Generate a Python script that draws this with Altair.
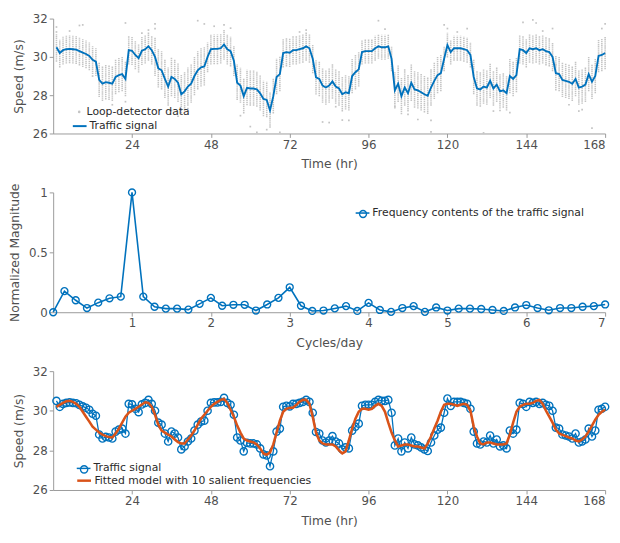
import altair as alt
import pandas as pd

# ---------------- data ----------------
hours = list(range(1, 169))

signal = [
    30.50, 30.20, 30.35, 30.40, 30.42, 30.40, 30.38, 30.30, 30.22, 30.15, 30.05, 29.85,
    29.75, 28.80, 28.60, 28.68, 28.65, 28.60, 28.95, 29.05, 29.10, 28.85, 30.35, 30.32,
    30.10, 29.93, 30.32, 30.40, 30.55, 30.35, 30.00, 29.40, 29.30, 28.85, 28.45, 28.95,
    28.85, 28.65, 28.05, 28.20, 28.45, 28.60, 29.00, 29.30, 29.45, 29.50, 30.00, 30.40,
    30.42, 30.42, 30.45, 30.65, 30.40, 30.30, 29.80, 28.65, 28.50, 27.95, 28.38, 28.35,
    28.35, 28.30, 28.10, 27.80, 27.75, 27.20, 27.95, 28.95, 29.10, 30.20, 30.25, 30.22,
    30.35, 30.35, 30.40, 30.45, 30.55, 30.45, 29.90, 28.93, 28.85, 28.50, 28.40, 28.50,
    28.72, 28.45, 28.35, 28.05, 28.15, 28.10, 29.00, 29.20, 29.35, 30.25, 30.30, 30.30,
    30.30, 30.45, 30.55, 30.50, 30.50, 30.55, 29.90, 28.25, 28.60, 27.95, 28.40, 28.10,
    28.65, 28.30, 28.25, 28.15, 28.05, 27.97, 28.40, 28.75, 29.05, 29.15, 29.90, 30.62,
    30.25, 30.45, 30.45, 30.45, 30.40, 30.35, 30.10, 28.95, 28.35, 28.30, 28.45, 28.40,
    28.75, 28.35, 28.55, 28.20, 28.25, 28.10, 29.00, 28.85, 29.05, 30.40, 30.35, 30.20,
    30.45, 30.40, 30.45, 30.35, 30.40, 30.30, 30.25, 30.00, 29.15, 29.10, 28.80, 28.75,
    28.70, 28.60, 28.85, 28.40, 28.45, 28.55, 29.10, 28.70, 29.00, 30.05, 30.10, 30.20,
]

fitted = [
    30.20, 30.30, 30.40, 30.48, 30.50, 30.45, 30.35, 30.20, 29.95, 29.70, 29.45, 29.20,
    29.05, 28.90, 28.80, 28.72, 28.67, 28.65, 28.85, 29.10, 29.40, 29.70, 29.90, 30.00,
    30.10, 30.20, 30.32, 30.43, 30.40, 30.20, 29.80, 29.30, 29.00, 28.90, 28.80, 28.70,
    28.55, 28.42, 28.35, 28.35, 28.55, 28.75, 29.00, 29.30, 29.60, 29.80, 30.00, 30.20,
    30.35, 30.45, 30.55, 30.60, 30.40, 30.05, 29.70, 29.25, 28.90, 28.60, 28.50, 28.45,
    28.40, 28.30, 28.10, 27.85, 27.78, 27.90, 28.30, 28.90, 29.50, 29.95, 30.10, 30.15,
    30.15, 30.30, 30.45, 30.55, 30.55, 30.35, 29.70, 28.90, 28.50, 28.35, 28.30, 28.30,
    28.30, 28.20, 28.00, 27.85, 27.95, 28.50, 29.10, 29.60, 29.95, 30.10, 30.10, 30.05,
    30.10, 30.25, 30.35, 30.25, 29.95, 29.40, 28.90, 28.50, 28.20, 28.25, 28.30, 28.30,
    28.25, 28.20, 28.20, 28.15, 28.10, 28.35, 28.70, 29.10, 29.50, 29.95, 30.30, 30.35,
    30.35, 30.30, 30.25, 30.30, 30.35, 30.30, 30.00, 29.20, 28.70, 28.35, 28.30, 28.40,
    28.40, 28.35, 28.30, 28.30, 28.30, 28.35, 28.80, 29.40, 29.95, 30.20, 30.30, 30.35,
    30.35, 30.40, 30.50, 30.55, 30.35, 30.00, 29.70, 29.40, 29.05, 28.85, 28.78, 28.72,
    28.65, 28.60, 28.50, 28.45, 28.55, 28.70, 28.95, 29.25, 29.55, 29.80, 29.95, 30.05,
]

freq_mag = [
    0.000, 0.176, 0.100, 0.035, 0.080, 0.116, 0.130, 1.000, 0.130, 0.046,
    0.030, 0.030, 0.022, 0.070, 0.120, 0.054, 0.062, 0.062, 0.014, 0.065,
    0.120, 0.208, 0.054, 0.011, 0.014, 0.032, 0.051, 0.011, 0.078, 0.019,
    0.003, 0.035, 0.051, 0.003, 0.040, 0.014, 0.030, 0.030, 0.027, 0.019,
    0.011, 0.040, 0.060, 0.035, 0.016, 0.035, 0.035, 0.046, 0.051, 0.065,
]
freq_k = list(range(len(freq_mag)))  # k/7 cycles per day

# spread of the dense loop-detector cloud: (first hour, last hour, above, below)
band_segments = [
    (1, 13, 0.70, 0.75), (14, 22, 0.90, 0.90), (23, 30, 0.75, 0.75),
    (31, 46, 1.00, 1.00), (47, 55, 0.75, 0.80), (56, 69, 0.95, 0.90),
    (70, 79, 0.75, 0.75), (80, 93, 0.90, 0.90), (94, 103, 0.65, 0.65),
    (104, 118, 0.95, 0.95), (119, 127, 0.65, 0.65), (128, 141, 0.90, 0.90),
    (142, 152, 0.75, 0.75), (153, 165, 0.90, 0.90), (166, 168, 0.85, 0.85),
]

outlier_t = [1, 1, 8, 9, 22, 22, 27, 31, 31, 44, 46, 49, 52, 57, 60, 62, 69,
             82, 84, 90, 99, 104, 111, 115, 115, 119, 120, 126, 131, 134, 139,
             143, 146, 147, 152, 153, 160, 161, 164, 167, 168, 36, 38, 65, 88,
             5, 12, 18, 29, 41, 54, 75, 77, 86, 101, 108, 123, 136, 149, 157]
outlier_v = [31.56, 31.30, 31.64, 31.67, 31.77, 27.66, 31.24, 31.72, 31.48, 31.89,
             31.72, 31.60, 31.67, 26.93, 26.36, 26.06, 26.06, 26.60, 26.57, 26.68,
             31.89, 27.40, 26.73, 26.68, 26.08, 31.67, 31.48, 31.48, 26.03, 27.17,
             27.09, 31.80, 31.93, 31.77, 31.48, 29.60, 27.17, 27.25, 26.28, 31.48,
             31.72, 27.20, 26.90, 26.20, 26.70,
             31.35, 29.00, 27.50, 31.40, 27.30, 31.50, 31.30, 31.40, 27.40, 31.45,
             27.00, 31.30, 27.20, 31.35, 27.50]

# ---------------- tables ----------------
BLUE = "#0072BD"
ORANGE = "#D95319"
GRAY = "#c4c4c4"
FONT = "DejaVu Sans"

spread_up, spread_dn = [], []
for h in hours:
    for a, b, up, dn in band_segments:
        if a <= h <= b:
            spread_up.append(up)
            spread_dn.append(dn)
            break

sig_df = pd.DataFrame({"t": hours, "v": signal, "fit": fitted})
sig_df["lo"] = [s - d for s, d in zip(signal, spread_dn)]
sig_df["hi"] = [s + u for s, u in zip(signal, spread_up)]
sig_df["s_loop"] = "Loop-detector data"
sig_df["s_sig"] = "Traffic signal"
sig_df["s_fit"] = "Fitted model with 10 salient frequencies"

out_df = pd.DataFrame({"t": outlier_t, "v": outlier_v, "s_loop": "Loop-detector data"})

freq_df = pd.DataFrame({"f": [k / 7 for k in freq_k], "m": freq_mag,
                        "s": "Frequency contents of the traffic signal"})

W = 562
H1, H2, H3 = 117, 122, 121

ax_time = alt.Axis(values=[24, 48, 72, 96, 120, 144, 168], title="Time (hr)",
                   labelFlush=1, format="d")
ax_speed = alt.Axis(values=[26, 28, 30, 32], title="Speed (m/s)", format="d")
sc_time = alt.Scale(domain=[0, 168], nice=False)
sc_speed = alt.Scale(domain=[26, 32], nice=False)


def xt(field="t"):
    return alt.X(f"{field}:Q", scale=sc_time, axis=ax_time)


def ys(field):
    return alt.Y(f"{field}:Q", scale=sc_speed, axis=ax_speed)


def one_legend(domain, color, x, y, sym, size, sw=2.0, hide_label=False, filled=False):
    kw = dict(orient="none", legendX=x, legendY=y, title=None, padding=0,
              symbolType=sym, symbolSize=size, symbolStrokeWidth=sw,
              labelOffset=2, labelFontSize=11, labelFont=FONT, labelLimit=400,
              labelColor="#2b2b2b",
              symbolFillColor=color if filled else "transparent",
              symbolStrokeColor=color)
    if hide_label:
        kw["labelExpr"] = "''"
    return alt.Scale(domain=[domain], range=[color]), alt.Legend(**kw)


# ---------- panel 1 ----------
sc, lg = one_legend("Loop-detector data", GRAY, 21, 89.5, "circle", 7, sw=0, filled=True)
band = alt.Chart(sig_df).transform_calculate(v="datum.lo").mark_rule(
    strokeWidth=1.6, strokeDash=[1.4, 0.7]).encode(
    x=xt(), y=ys("v"), y2=alt.Y2("hi:Q"),
    color=alt.Color("s_loop:N", scale=sc, legend=lg),
)
outl = alt.Chart(out_df).mark_square(size=3, opacity=1).encode(
    x=xt(), y=ys("v"), color=alt.Color("s_loop:N", scale=sc, legend=None))
sc2, lg2 = one_legend("Traffic signal", BLUE, 19, 101.5, "stroke", 196, sw=2)
line1 = alt.Chart(sig_df).mark_line(strokeWidth=1.9).encode(
    x=xt(), y=ys("v"), color=alt.Color("s_sig:N", scale=sc2, legend=lg2))
p1 = alt.layer(band, outl, line1).resolve_scale(color="independent").properties(width=W, height=H1)

# ---------- panel 2 ----------
sc3, lg3 = one_legend("Frequency contents of the traffic signal", BLUE, 307, 13, "stroke", 196, sw=1.6)
sc4, lg4 = one_legend("Frequency contents of the traffic signal", BLUE, 310, 16.5, "circle", 50, sw=1.4,
                      hide_label=True)
ax_f = alt.Axis(values=[1, 2, 3, 4, 5, 6, 7], title="Cycles/day", format="d")
ax_m = alt.Axis(values=[0, 0.5, 1], title="Normalized Magnitude", format="~g")
sc_f = alt.Scale(domain=[0, 7], nice=False)
sc_m = alt.Scale(domain=[0, 1], nice=False)
fline = alt.Chart(freq_df).mark_line(strokeWidth=1.6).encode(
    x=alt.X("f:Q", scale=sc_f, axis=ax_f), y=alt.Y("m:Q", scale=sc_m, axis=ax_m),
    color=alt.Color("s:N", scale=sc3, legend=lg3))
fpts = alt.Chart(freq_df).mark_point(shape="circle", filled=False, size=50, strokeWidth=1.4, opacity=1).encode(
    x=alt.X("f:Q", scale=sc_f, axis=ax_f), y=alt.Y("m:Q", scale=sc_m, axis=ax_m),
    color=alt.Color("s:N", scale=sc4, legend=lg4))
p2 = alt.layer(fline, fpts).resolve_scale(color="independent").properties(width=W, height=H2)

# ---------- panel 3 ----------
sc5, lg5 = one_legend("Traffic signal", BLUE, 23, 91, "stroke", 196, sw=1.5)
sc6, lg6 = one_legend("Traffic signal", BLUE, 26, 94.5, "circle", 55, sw=1.4, hide_label=True)
sc7, lg7 = one_legend("Fitted model with 10 salient frequencies", ORANGE, 23, 103, "stroke", 196, sw=2.5)
l3 = alt.Chart(sig_df).mark_line(strokeWidth=1.3).encode(
    x=xt(), y=ys("v"), color=alt.Color("s_sig:N", scale=sc5, legend=lg5))
c3 = alt.Chart(sig_df).mark_point(shape="circle", filled=False, size=55, strokeWidth=1.4, opacity=1).encode(
    x=xt(), y=ys("v"), color=alt.Color("s_sig:N", scale=sc6, legend=lg6))
f3 = alt.Chart(sig_df).mark_line(strokeWidth=2.6).encode(
    x=xt(), y=ys("fit"), color=alt.Color("s_fit:N", scale=sc7, legend=lg7))
p3 = alt.layer(l3, c3, f3).resolve_scale(color="independent").properties(width=W, height=H3)

chart = alt.vconcat(p1, p2, p3, spacing=60, bounds="flush").properties(
    padding={"left": 0, "top": 0, "right": 0, "bottom": 0}
).configure_view(stroke=None).configure_axis(
    grid=False, domainColor="#9a9a9a", tickColor="#9a9a9a", tickSize=4,
    labelColor="#505050", titleColor="#505050", labelFont=FONT, titleFont=FONT,
    labelFontSize=12, titleFontSize=12.5, titleFontWeight="normal",
    labelPadding=2,
).configure_axisX(titlePadding=8).configure_axisY(titlePadding=7)

chart.save("out.html", embed_options={"renderer": "svg", "actions": False})
